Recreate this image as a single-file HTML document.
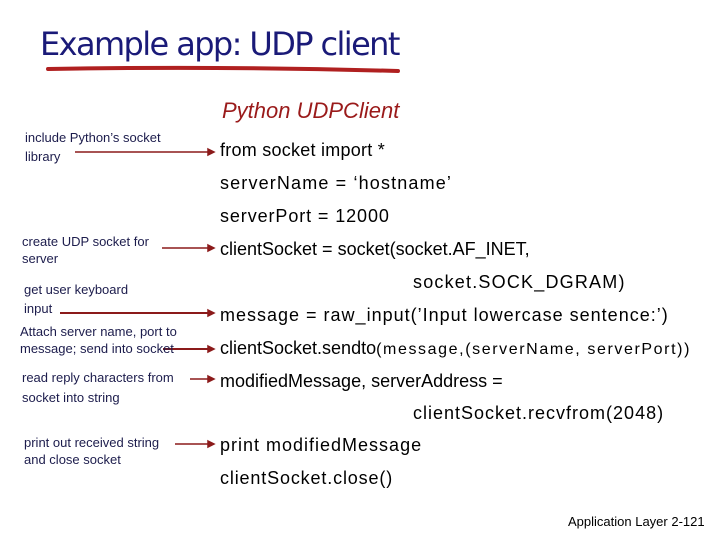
<!DOCTYPE html>
<html><head><meta charset="utf-8"><style>
body{margin:0;width:720px;height:540px;background:#fff;position:relative;overflow:hidden;font-family:"Liberation Sans",sans-serif}
.t{position:absolute;white-space:nowrap;line-height:1}
.c{font-size:18px;color:#000}
.a{font-size:13px;color:#1c1c4c}
</style></head><body>
<div class="t" style="left:40px;top:28px;font-size:32px;color:#1a1a78;font-family:'DejaVu Sans','Liberation Sans',sans-serif;letter-spacing:-1.6px">Example app: UDP client</div>
<svg style="position:absolute;left:0;top:0" width="720" height="540">
<path d="M48 69 Q220 66 398 71" stroke="#b02020" stroke-width="4" fill="none" stroke-linecap="round"/>
<g stroke="#8b1a1a" stroke-width="1.5" fill="#8b1a1a">
<line x1="75" y1="152" x2="208" y2="152"/><polygon points="208,149 214,152 208,155"/>
<line x1="162" y1="248" x2="208" y2="248"/><polygon points="208,245 214,248 208,251"/>
<line x1="60" y1="313" x2="208" y2="313" stroke-width="2"/><polygon points="208,310 214,313 208,316"/>
<line x1="163" y1="349" x2="208" y2="349" stroke-width="2"/><polygon points="208,346 214,349 208,352"/>
<line x1="190" y1="379" x2="208" y2="379"/><polygon points="208,376 214,379 208,382"/>
<line x1="175" y1="444" x2="208" y2="444"/><polygon points="208,441 214,444 208,447"/>
</g>
</svg>
<div class="t" style="left:222px;top:100px;font-size:22px;font-style:italic;color:#9a1a1a">Python UDPClient</div>
<div class="t a" style="left:25px;top:131px">include Python’s socket</div>
<div class="t a" style="left:25px;top:150px">library</div>
<div class="t a" style="left:22px;top:235px">create UDP socket for</div>
<div class="t a" style="left:22px;top:252px">server</div>
<div class="t a" style="left:24px;top:283px">get user keyboard</div>
<div class="t a" style="left:24px;top:302px">input</div>
<div class="t a" style="left:20px;top:325px">Attach server name, port to</div>
<div class="t a" style="left:20px;top:342px">message; send into socket</div>
<div class="t a" style="left:22px;top:371px">read reply characters from</div>
<div class="t a" style="left:22px;top:391px">socket into string</div>
<div class="t a" style="left:24px;top:436px">print out received string</div>
<div class="t a" style="left:24px;top:453px">and close socket</div>
<div class="t c" style="left:220px;top:141px;letter-spacing:0.25px">from socket import *</div>
<div class="t c" style="left:220px;top:174px;letter-spacing:1.15px">serverName = ‘hostname’</div>
<div class="t c" style="left:220px;top:207px;letter-spacing:0.9px">serverPort = 12000</div>
<div class="t c" style="left:220px;top:240px">clientSocket = socket(socket.AF_INET,</div>
<div class="t c" style="left:413px;top:273px;letter-spacing:1.2px">socket.SOCK_DGRAM)</div>
<div class="t c" style="left:220px;top:306px;letter-spacing:1px">message = raw_input(’Input lowercase sentence:’)</div>
<div class="t c" style="left:220px;top:339px">clientSocket.sendto<span style="font-size:16px;letter-spacing:1.6px">(message,(serverName, serverPort))</span></div>
<div class="t c" style="left:220px;top:372px">modifiedMessage, serverAddress =</div>
<div class="t c" style="left:413px;top:404px;letter-spacing:1px">clientSocket.recvfrom(2048)</div>
<div class="t c" style="left:220px;top:436px;letter-spacing:1px">print modifiedMessage</div>
<div class="t c" style="left:220px;top:469px;letter-spacing:0.85px">clientSocket.close()</div>
<div class="t" style="left:568px;top:515px;font-size:13px;color:#000">Application Layer 2-121</div>
</body></html>
